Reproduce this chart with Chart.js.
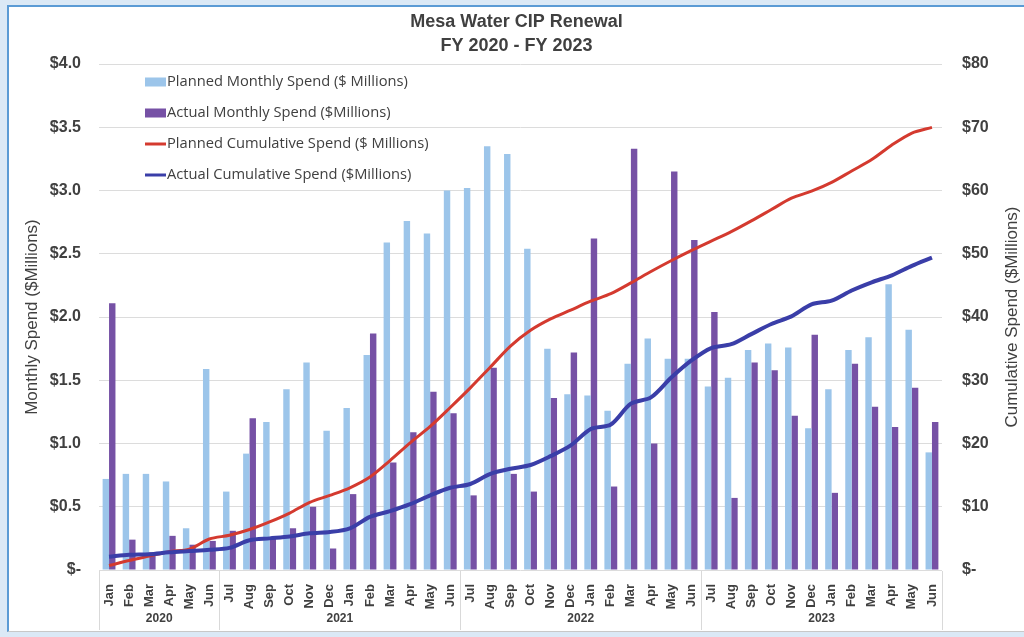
<!DOCTYPE html>
<html>
<head>
<meta charset="utf-8">
<title>Mesa Water CIP Renewal</title>
<script src="https://cdn.jsdelivr.net/npm/chart.js@4/dist/chart.umd.min.js"></script>
<style>
  body { margin: 0; background: #dbe9f6; width: 1024px; height: 637px; overflow: hidden; }
  #box { position: absolute; left: 7px; top: 5px; width: 1015px; height: 624px; background: #fff;
         border-top: 2px solid #5b9bd5; border-left: 2px solid #5b9bd5; border-bottom: 1px solid #c8c8c8; }
  canvas { display: block; }
</style>
</head>
<body>
<div id="box"><canvas id="cip-chart" width="1015" height="624"></canvas></div>
<script>
// months Jan 2020 - Jun 2023
var months = ["Jan","Feb","Mar","Apr","May","Jun",
  "Jul","Aug","Sep","Oct","Nov","Dec","Jan","Feb","Mar","Apr","May","Jun",
  "Jul","Aug","Sep","Oct","Nov","Dec","Jan","Feb","Mar","Apr","May","Jun",
  "Jul","Aug","Sep","Oct","Nov","Dec","Jan","Feb","Mar","Apr","May","Jun"];

// fiscal year groups under the month labels
var fiscalYears = ["2020", "2021", "2022", "2023"];
var fyStart = [0, 6, 18, 30, 42];

var plannedMonthly = [0.72,0.76,0.76,0.70,0.33,1.59,
  0.62,0.92,1.17,1.43,1.64,1.10,1.28,1.70,2.59,2.76,2.66,3.00,
  3.02,3.35,3.29,2.54,1.75,1.39,1.38,1.26,1.63,1.83,1.67,1.67,
  1.45,1.52,1.74,1.79,1.76,1.12,1.43,1.74,1.84,2.26,1.90,0.93];

var actualMonthly = [2.11,0.24,0.14,0.27,0.20,0.23,
  0.31,1.20,0.25,0.33,0.50,0.17,0.60,1.87,0.85,1.09,1.41,1.24,
  0.59,1.60,0.76,0.62,1.36,1.72,2.62,0.66,3.33,1.00,3.15,2.61,
  2.04,0.57,1.64,1.58,1.22,1.86,0.61,1.63,1.29,1.13,1.44,1.17];

var plannedCumulative = [0.7,1.5,2.2,2.9,3.3,4.9,
  5.5,6.4,7.6,9.0,10.7,11.8,13.0,14.7,17.3,20.1,22.7,25.7,
  28.8,32.1,35.4,37.9,39.7,41.1,42.5,43.7,45.4,47.2,48.9,50.5,
  52.0,53.5,55.2,57.0,58.8,59.9,61.3,63.1,64.9,67.2,69.1,70.0];

var actualCumulative = [2.1,2.4,2.5,2.8,3.0,3.2,
  3.5,4.7,5.0,5.3,5.8,6.0,6.6,8.4,9.3,10.4,11.8,13.0,
  13.6,15.2,16.0,16.6,18.0,19.7,22.3,23.0,26.3,27.3,30.4,33.1,
  35.1,35.7,37.3,38.9,40.1,42.0,42.6,44.2,45.5,46.6,48.1,49.4];

var rightTitle = "Cumulative Spend ($Millions)";

Chart.defaults.font.family = "'Liberation Sans', Arial, sans-serif";
Chart.defaults.color = "#404040";

// legend drawn inside the plot, top left
var insideLegend = {
  id: "insideLegend",
  afterDraw: function (chart) {
    var ctx = chart.ctx;
    var x0 = 136, y0 = 75, step = 31;
    ctx.save();
    ctx.font = "14.7px 'Open Sans', sans-serif";
    ctx.textBaseline = "middle";
    chart.data.datasets.forEach(function (ds, i) {
      var y = y0 + i * step;
      if (ds.type === "line") {
        ctx.strokeStyle = ds.borderColor;
        ctx.lineWidth = 3;
        ctx.beginPath();
        ctx.moveTo(x0, y);
        ctx.lineTo(x0 + 21, y);
        ctx.stroke();
      } else {
        ctx.fillStyle = ds.backgroundColor;
        ctx.fillRect(x0, y - 4.5, 21, 9);
      }
      ctx.fillStyle = "#404040";
      ctx.fillText(ds.label, x0 + 22, y);
    });
    ctx.restore();
  }
};

// year row + separators below the month ticks, right axis title (reads bottom-up)
var yearGroups = {
  id: "yearGroups",
  afterDraw: function (chart) {
    var ctx = chart.ctx, xs = chart.scales.x, area = chart.chartArea;
    var half = (xs.getPixelForValue(1) - xs.getPixelForValue(0)) / 2;
    ctx.save();
    ctx.strokeStyle = "#d9d9d9";
    ctx.lineWidth = 1;
    fyStart.forEach(function (idx) {
      var px = Math.round(xs.getPixelForValue(Math.min(idx, 41)) + (idx > 41 ? half : -half)) + 0.5;
      ctx.beginPath();
      ctx.moveTo(px, area.bottom + 1);
      ctx.lineTo(px, area.bottom + 60);
      ctx.stroke();
    });
    ctx.font = "bold 12px 'Liberation Sans', Arial, sans-serif";
    ctx.fillStyle = "#404040";
    ctx.textAlign = "center";
    ctx.textBaseline = "middle";
    fiscalYears.forEach(function (yr, g) {
      var a = xs.getPixelForValue(fyStart[g]) - half;
      var b = xs.getPixelForValue(fyStart[g + 1] - 1) + half;
      ctx.fillText(yr, (a + b) / 2, area.bottom + 49);
    });
    ctx.translate(chart.width - 12, (area.top + area.bottom) / 2);
    ctx.rotate(-Math.PI / 2);
    ctx.font = "17px 'Liberation Sans', Arial, sans-serif";
    ctx.fillText(rightTitle, 0, 0);
    ctx.restore();
  }
};

new Chart(document.getElementById("cip-chart"), {
  type: "bar",
  data: {
    labels: months,
    datasets: [{
      label: "Planned Monthly Spend ($ Millions)",
      data: plannedMonthly,
      backgroundColor: "#9cc5ea",
      yAxisID: "y",
      order: 3,
      categoryPercentage: 0.64,
      barPercentage: 1.0
    }, {
      label: "Actual Monthly Spend ($Millions)",
      data: actualMonthly,
      backgroundColor: "#7651a5",
      yAxisID: "y",
      order: 3,
      categoryPercentage: 0.64,
      barPercentage: 1.0
    }, {
      type: "line",
      label: "Planned Cumulative Spend ($ Millions)",
      data: plannedCumulative,
      borderColor: "#d43a2f",
      borderWidth: 3,
      pointRadius: 0,
      tension: 0.3,
      yAxisID: "y2",
      order: 2
    }, {
      type: "line",
      label: "Actual Cumulative Spend ($Millions)",
      data: actualCumulative,
      borderColor: "#3a3ea8",
      borderWidth: 4,
      pointRadius: 0,
      tension: 0.3,
      yAxisID: "y2",
      order: 1
    }]
  },
  options: {
    responsive: false,
    animation: false,
    layout: { padding: 0 },
    plugins: {
      legend: { display: false },
      tooltip: { enabled: false },
      title: {
        display: true,
        text: ["Mesa Water CIP Renewal", "FY 2020 - FY 2023"],
        font: { size: 18, weight: "bold", lineHeight: 1.28 },
        color: "#404040",
        padding: { top: 4, bottom: 7 }
      }
    },
    scales: {
      x: {
        grid: { display: false },
        border: { display: false },
        ticks: {
          minRotation: 90, maxRotation: 90, autoSkip: false, padding: 6,
          font: { size: 13, weight: "bold" }
        },
        afterFit: function (scale) { scale.height = 61; }
      },
      y: {
        position: "left",
        min: 0, max: 4,
        grid: { color: "#dcdcdc", drawTicks: false },
        border: { display: false },
        ticks: {
          stepSize: 0.5, padding: 18,
          font: { size: 16, weight: "bold" },
          callback: function (v) { return v === 0 ? "$-" : "$" + v.toFixed(1); }
        },
        title: {
          display: true, text: "Monthly Spend ($Millions)",
          font: { size: 17 }, padding: { top: 13, bottom: 0 }
        },
        afterFit: function (scale) { scale.width = 90; }
      },
      y2: {
        position: "right",
        min: 0, max: 80,
        grid: { display: false, drawOnChartArea: false, drawTicks: false },
        border: { display: false },
        ticks: {
          stepSize: 10, padding: 20,
          font: { size: 16, weight: "bold" },
          callback: function (v) { return v === 0 ? "$-" : "$" + v; }
        },
        afterFit: function (scale) { scale.width = 82; }
      }
    }
  },
  plugins: [insideLegend, yearGroups]
});
</script>
</body>
</html>
